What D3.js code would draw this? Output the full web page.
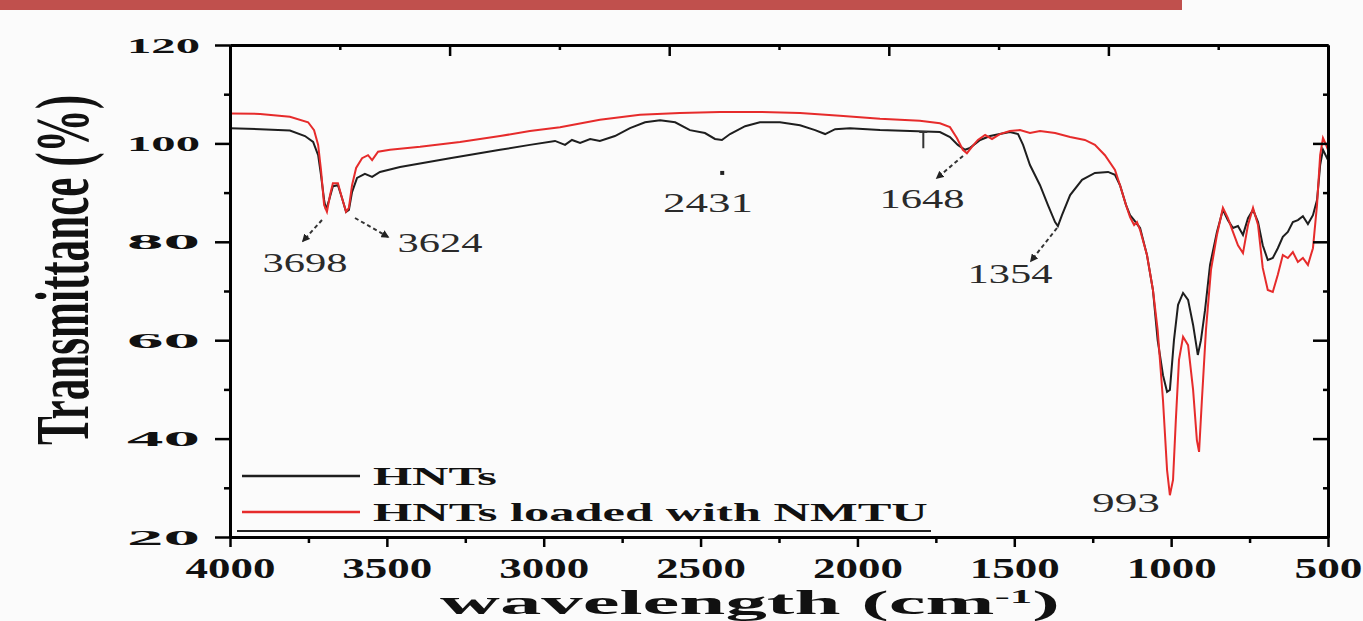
<!DOCTYPE html>
<html lang="en">
<head>
    <meta charset="UTF-8">
    <title>FTIR spectra</title>
    <script src="https://d3js.org/d3.v7.min.js"></script>
    <style>
        body { margin: 0; background: #fbfbfb; }
        text { font-family: "Liberation Serif", "Times New Roman", serif; }
    </style>
</head>
<body>

<svg id="svg-container" width="1363" height="621"></svg>
<script>

    // HNTs spectrum (wavenumber cm-1 / transmittance %)
    const hntWave = [4000, 3904, 3809, 3761, 3735, 3719, 3710, 3700, 3694, 3684, 3672, 3656, 3643, 3630, 3621, 3611,
        3595, 3570, 3547, 3522, 3458, 3299, 3139, 3044, 2964, 2932, 2910, 2884, 2852, 2821, 2773, 2725, 2677, 2629,
        2581, 2534, 2486, 2454, 2432, 2406, 2358, 2311, 2247, 2183, 2135, 2103, 2071, 2024, 1928, 1832, 1737, 1705,
        1680, 1657, 1641, 1609, 1577, 1546, 1514, 1488, 1472, 1450, 1418, 1393, 1370, 1361, 1348, 1322, 1284, 1243,
        1201, 1179, 1163, 1144, 1131, 1118, 1099, 1077, 1058, 1043, 1026, 1013, 1004, 991, 978, 962, 946, 930, 915,
        905, 892, 876, 854, 835, 819, 803, 787, 771, 755, 739, 723, 708, 692, 676, 660, 644, 628, 612, 596, 580, 564,
        548, 535, 525, 516, 500];
    const hntT = [103.1, 102.9, 102.6, 101.5, 100.3, 97.6, 93.6, 88.5, 86.5, 88.5, 91.3, 91.5, 88.9, 86.1, 86.5, 90.1,
        93, 93.8, 93.2, 94.2, 95.2, 97, 98.7, 99.7, 100.5, 99.7, 100.7, 100.1, 100.9, 100.5, 101.5, 103.1, 104.3, 104.7,
        104.3, 102.7, 102.1, 100.9, 100.7, 101.9, 103.5, 104.3, 104.3, 103.7, 102.7, 101.9, 102.9, 103.1, 102.7, 102.5, 102.3, 101.3,
        99.7, 98.7, 99.1, 100.7, 101.5, 101.9, 102.3, 101.9, 99.7, 95.6, 91.5, 87.5, 84, 83.2, 85.4, 89.5, 92.6, 94,
        94.2, 93.6, 91.5, 87.5, 85.4, 84.4, 82.8, 77.3, 70.2, 60, 52.9, 49.5, 49.9, 60, 67.2, 69.6, 68.2, 63.1, 57,
        60, 66.1, 75.3, 82, 86.5, 84.4, 82.8, 83.2, 81.4, 84.8, 86.5, 84, 79.3, 76.3, 76.7, 78.7, 81, 82, 84, 84.4, 85.2, 83.6,
        85.4, 88.5, 95.6, 98.7, 96.6];

    // HNTs loaded with NMTU spectrum
    const nmtuWave = [4000, 3904, 3809, 3751, 3732, 3719, 3710, 3700, 3691, 3681, 3672, 3656, 3643, 3630, 3621, 3611,
        3598, 3579, 3560, 3547, 3528, 3490, 3394, 3267, 3139, 3044, 2948, 2821, 2693, 2566, 2438, 2311, 2183, 2056,
        1928, 1801, 1737, 1705, 1683, 1664, 1651, 1635, 1616, 1593, 1571, 1546, 1514, 1482, 1450, 1418, 1370, 1322,
        1275, 1243, 1211, 1179, 1163, 1144, 1131, 1118, 1109, 1099, 1077, 1058, 1043, 1026, 1013, 1004, 994, 985, 975,
        962, 946, 930, 918, 911, 902, 889, 873, 854, 835, 819, 803, 787, 771, 755, 739, 723, 708, 692, 676, 660, 644,
        628, 612, 596, 580, 564, 548, 535, 525, 516, 506, 500];
    const nmtuT = [106.1, 106, 105.4, 104.3, 102.7, 99.7, 94.6, 87.5, 86.1, 89.5, 91.9, 91.9, 88.9, 86.1, 86.9, 91.5,
        95, 97, 97.6, 96.6, 98.3, 98.7, 99.3, 100.3, 101.5, 102.5, 103.3, 104.8, 105.8, 106.2, 106.4, 106.4, 106.2, 105.6,
        105, 104.6, 104.1, 103.3, 101.1, 98.7, 98, 99.3, 100.7, 101.7, 100.9, 101.9, 102.5, 102.7, 102.1, 102.5, 102.1, 101.3,
        100.7, 99.7, 97.6, 94.6, 91.5, 87.5, 85, 83.4, 84, 82.4, 77.3, 70.2, 62.1, 47.8, 33.6, 28.5, 31.6, 43.8, 56,
        60.7, 59, 49.9, 39.7, 37.3, 47.8, 62.1, 74.3, 81.4, 86.9, 84.8, 82, 79.3, 77.7, 83.4, 86.9, 83.4, 74.7, 70.2, 69.8, 73.3, 77.3,
        76.7, 77.9, 75.9, 76.7, 75.3, 78.7, 87.5, 97.6, 101.1, 99.7, 98.7];

    const xTicks = [4000, 3500, 3000, 2500, 2000, 1500, 1000, 500];
    const yTicks = [20, 40, 60, 80, 100, 120];
    const seriesNames = ["HNTs", "HNTs loaded with NMTU"];
    const peakLabels = ["3698", "3624", "2431", "1648", "1354", "993"];

    window.onload = function () {

        const svg = d3.select("#svg-container");
        const left = 230, top = 45, width = 1098, height = 492;
        const bottom = top + height, right = left + width;

        const x = d3.scaleLinear().domain([4000, 500]).range([left, right]);
        const y = d3.scaleLinear().domain([20, 120]).range([bottom, top]);

        // stretch a text horizontally so it covers w pixels, anchored on (px, py)
        const fit = (t, w, px, py) => {
            const L = t.node().getComputedTextLength();
            t.attr("x", 0).attr("y", 0)
                .attr("transform", `translate(${px},${py}) scale(${w / L},1)`);
        };

        // red bar at the very top of the page
        svg.append("rect").attr("x", 0).attr("y", 0).attr("width", 1182).attr("height", 10)
            .attr("fill", "#c0504d");

        // curves
        const line = d3.line().x(d => x(d[0])).y(d => y(d[1]));
        svg.append("path").datum(d3.zip(hntWave, hntT))
            .attr("d", line).attr("fill", "none").attr("stroke", "#1e1e1e").attr("stroke-width", 2);
        svg.append("path").datum(d3.zip(nmtuWave, nmtuT))
            .attr("d", line).attr("fill", "none").attr("stroke", "#e62b2b").attr("stroke-width", 2);

        // axes
        const styleAxis = g => {
            g.select(".domain").attr("stroke", "#000").attr("stroke-width", 3);
            g.selectAll(".tick line").attr("stroke", "#000").attr("stroke-width", 2.5);
        };

        const minorX = d3.range(3750, 500, -500);
        const minorY = d3.range(30, 120, 20);

        svg.append("g").attr("transform", `translate(0,${bottom})`)
            .call(d3.axisBottom(x).tickValues(minorX).tickSize(6).tickFormat("").tickSizeOuter(0))
            .call(styleAxis);
        const gx = svg.append("g").attr("transform", `translate(0,${bottom})`)
            .call(d3.axisBottom(x).tickValues(xTicks).tickSize(10).tickFormat(d3.format("d")).tickSizeOuter(0))
            .call(styleAxis);
        gx.selectAll(".tick text").each(function () {
            const t = d3.select(this).attr("font-size", 30).attr("font-weight", "bold")
                .attr("fill", "#111").attr("dy", null);
            fit(t, this.textContent.length === 4 ? 90 : 68, 0, 41);
        });

        svg.append("g").attr("transform", `translate(${left},0)`)
            .call(d3.axisLeft(y).tickValues(minorY).tickSize(6).tickFormat("").tickSizeOuter(0))
            .call(styleAxis);
        const gy = svg.append("g").attr("transform", `translate(${left},0)`)
            .call(d3.axisLeft(y).tickValues(yTicks).tickSize(15).tickSizeOuter(0))
            .call(styleAxis);
        gy.selectAll(".tick text").each(function () {
            const t = d3.select(this).attr("font-size", 21).attr("font-weight", "bold")
                .attr("fill", "#111").attr("dy", null).attr("text-anchor", "end");
            fit(t, 73, -30, 7);
        });

        // top axis: ten plain divisions, ticks inward
        const xTop = d3.scaleLinear().domain([0, 10]).range([left, right]);
        svg.append("g").attr("transform", `translate(0,${top})`)
            .call(d3.axisTop(xTop).tickValues(d3.range(1, 10, 2)).tickSize(-5).tickFormat("").tickSizeOuter(0))
            .call(styleAxis);
        svg.append("g").attr("transform", `translate(0,${top})`)
            .call(d3.axisTop(xTop).tickValues(d3.range(2, 10, 2)).tickSize(-11).tickFormat("").tickSizeOuter(0))
            .call(styleAxis);

        // right axis, ticks inward
        svg.append("g").attr("transform", `translate(${right},0)`)
            .call(d3.axisRight(y).tickValues(minorY).tickSize(-5).tickFormat("").tickSizeOuter(0))
            .call(styleAxis);
        svg.append("g").attr("transform", `translate(${right},0)`)
            .call(d3.axisRight(y).tickValues(yTicks.slice(1, -1)).tickSize(-15).tickFormat("").tickSizeOuter(0))
            .call(styleAxis);

        // axis titles
        svg.append("text")
            .attr("transform", "translate(88,270) scale(1.8,1) rotate(-90)")
            .attr("text-anchor", "middle").attr("font-size", 42).attr("font-weight", "bold")
            .attr("fill", "#111").attr("textLength", 350).attr("lengthAdjust", "spacingAndGlyphs")
            .text("Transmittance (%)");

        const xt = svg.append("text").attr("text-anchor", "middle").attr("font-size", 33)
            .attr("font-weight", "bold").attr("fill", "#111");
        xt.append("tspan").text("wavelength (cm");
        xt.append("tspan").attr("font-size", 18).attr("dy", -11).text("-1");
        xt.append("tspan").attr("dy", 11).text(")");
        fit(xt, 620, 750, 614);

        // legend
        const legendColors = ["#1e1e1e", "#e62b2b"];
        const legendY = [476, 512];
        const legendW = [124, 555];
        seriesNames.forEach((name, i) => {
            svg.append("line").attr("x1", 242).attr("x2", 360)
                .attr("y1", legendY[i]).attr("y2", legendY[i])
                .attr("stroke", legendColors[i]).attr("stroke-width", 2.5);
            const t = svg.append("text").attr("font-size", 26).attr("font-weight", "bold")
                .attr("fill", "#111").text(name);
            fit(t, legendW[i], 373, legendY[i] + 9);
        });
        svg.append("line").attr("x1", 237).attr("x2", 931).attr("y1", 531).attr("y2", 531)
            .attr("stroke", "#222").attr("stroke-width", 2);

        // peak annotations
        svg.append("defs").append("marker")
            .attr("id", "head").attr("viewBox", "0 0 10 10").attr("refX", 8).attr("refY", 5)
            .attr("markerWidth", 4).attr("markerHeight", 4).attr("orient", "auto")
            .append("path").attr("d", "M0,0L10,5L0,10Z").attr("fill", "#222");

        const labelPos = [[305, 272], [440, 252], [708, 212], [922, 208], [1010, 283], [1126, 512]];
        const labelW = [85, 85, 90, 85, 85, 68];
        const arrows = [[322, 220, 303, 241], [355, 218, 388, 237], null,
            [963, 156, 937, 178], [1057, 228, 1031, 261], null];

        peakLabels.forEach((lab, i) => {
            const t = svg.append("text").attr("font-size", 28).attr("fill", "#2a2a2a")
                .attr("text-anchor", "middle").text(lab);
            fit(t, labelW[i], labelPos[i][0], labelPos[i][1]);
            const a = arrows[i];
            if (a) {
                svg.append("line").attr("x1", a[0]).attr("y1", a[1]).attr("x2", a[2]).attr("y2", a[3])
                    .attr("stroke", "#333").attr("stroke-width", 2).attr("stroke-dasharray", "4,3")
                    .attr("marker-end", "url(#head)");
            }
        });

        // small marks on the black trace
        svg.append("rect").attr("x", x(2431) - 2).attr("y", y(94) - 2).attr("width", 4).attr("height", 4)
            .attr("fill", "#222");
        svg.append("path")
            .attr("d", `M${x(1790) - 4},${y(102.3)}H${x(1790) + 4}M${x(1790)},${y(102.3)}V${y(99)}`)
            .attr("stroke", "#333").attr("stroke-width", 2).attr("fill", "none");
    }

</script>

</body>
</html>
